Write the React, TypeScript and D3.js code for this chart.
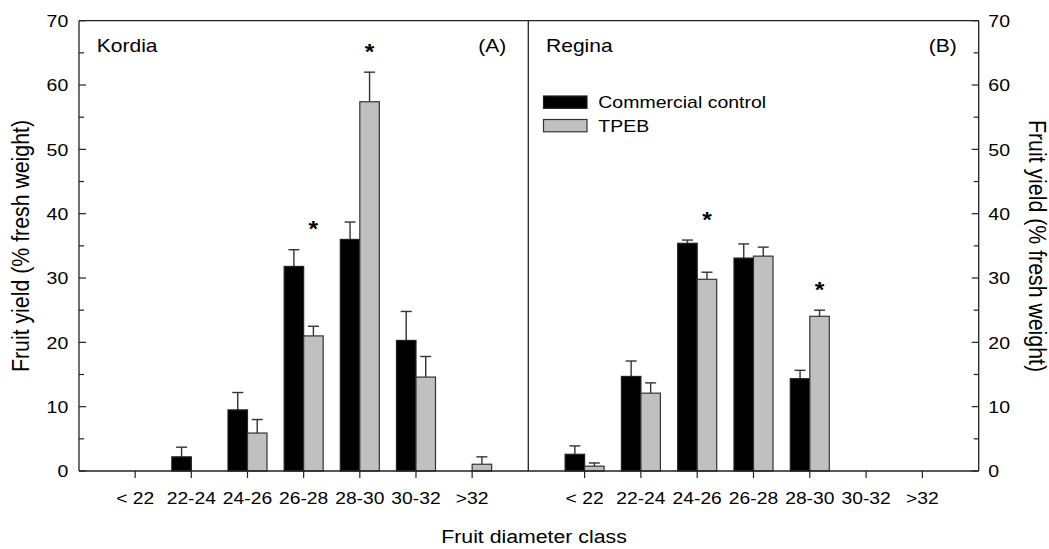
import React from 'react';
import * as d3 from 'd3';

const categories = ['< 22', '22-24', '24-26', '26-28', '28-30', '30-32', '>32'];

// Kordia (A)
const kordiaControl = [null, 2.2, 9.5, 31.8, 36.0, 20.3, null];
const kordiaControlErr = [null, 1.5, 2.7, 2.6, 2.7, 4.5, null];
const kordiaTpeb = [null, null, 5.9, 21.0, 57.4, 14.6, 1.05];
const kordiaTpebErr = [null, null, 2.1, 1.5, 4.6, 3.2, 1.15];
const kordiaSignif = ['26-28', '28-30'];

// Regina (B)
const reginaControl = [2.6, 14.7, 35.4, 33.1, 14.35, null, null];
const reginaControlErr = [1.3, 2.4, 0.5, 2.2, 1.3, null, null];
const reginaTpeb = [0.75, 12.1, 29.8, 33.4, 24.05, null, null];
const reginaTpebErr = [0.5, 1.6, 1.1, 1.4, 0.95, null, null];
const reginaSignif = ['24-26', '28-30'];

const seriesNames = ['Commercial control', 'TPEB'];

const W = 1049, H = 549;
const left = 79, mid = 528.3, right = 978.7, top = 20.7, bottom = 471;
const barW = 19.5;
const SX = 1.12; // horizontal stretch of the original raster
const font = '"Liberation Sans", Arial, sans-serif';
const ink = '#222';

const y = d3.scaleLinear().domain([0, 70]).range([bottom, top]);
const majorTicks = y.ticks(7);
const minorTicks = d3.range(5, 70, 10);

function HText({ x, y, size, anchor = 'start', weight = 'normal', children }: any) {
  return (
    <text transform={`translate(${x},${y}) scale(${SX},1)`} fontSize={size} fontFamily={font}
      textAnchor={anchor} fontWeight={weight} fill="#000">{children}</text>
  );
}

function Panel({ x0, x1, control, controlErr, tpeb, tpebErr, signif, label, tag }: any) {
  const x = d3.scaleLinear().domain([0, 8]).range([x0, x1]);
  const pos = (i: number) => x(i + 1);
  const errBar = (cx: number, v: number, e: number, key: string) => (
    <g key={key} stroke="#333" strokeWidth={1.4}>
      <line x1={cx} x2={cx} y1={y(v)} y2={y(v + e)} />
      <line x1={cx - 5.5} x2={cx + 5.5} y1={y(v + e)} y2={y(v + e)} />
    </g>
  );
  return (
    <g>
      {categories.map((c, i) => (
        <g key={c}>
          {control[i] != null && (
            <g>
              {errBar(pos(i) - barW / 2, control[i], controlErr[i], 'ce')}
              <rect x={pos(i) - barW} y={y(control[i])} width={barW} height={bottom - y(control[i])}
                fill="#000" stroke={ink} strokeWidth={1.2} />
            </g>
          )}
          {tpeb[i] != null && (
            <g>
              {errBar(pos(i) + barW / 2, tpeb[i], tpebErr[i], 'te')}
              <rect x={pos(i)} y={y(tpeb[i])} width={barW} height={bottom - y(tpeb[i])}
                fill="#c0c0c0" stroke="#333" strokeWidth={1.2} />
            </g>
          )}
          {signif.includes(c) && (
            <HText x={pos(i) + barW / 2} anchor="middle" size={22} weight="bold"
              y={y(Math.max((control[i] ?? 0) + (controlErr[i] ?? 0), (tpeb[i] ?? 0) + (tpebErr[i] ?? 0))) - 13.5}>*</HText>
          )}
          <line x1={pos(i)} x2={pos(i)} y1={bottom} y2={bottom + 7} stroke={ink} strokeWidth={1.2} />
          <HText x={pos(i)} y={504} size={17.2} anchor="middle">{c}</HText>
        </g>
      ))}
      <HText x={x0 + 17.7} y={52.3} size={18.8}>{label}</HText>
      <HText x={x1 - 22} y={52.3} size={18.8} anchor="end">{tag}</HText>
    </g>
  );
}

export default function App() {
  return (
    <svg width={W} height={H} style={{ position: 'absolute', left: 0, top: 0, background: '#fff' }}>
      <Panel x0={left} x1={mid} control={kordiaControl} controlErr={kordiaControlErr}
        tpeb={kordiaTpeb} tpebErr={kordiaTpebErr} signif={kordiaSignif} label="Kordia" tag="(A)" />
      <Panel x0={mid} x1={right} control={reginaControl} controlErr={reginaControlErr}
        tpeb={reginaTpeb} tpebErr={reginaTpebErr} signif={reginaSignif} label="Regina" tag="(B)" />

      {/* frame */}
      <g stroke={ink} strokeWidth={1.3} fill="none">
        <line x1={left} x2={right} y1={top} y2={top} />
        <line x1={left} x2={right} y1={bottom} y2={bottom} />
        <line x1={left} x2={left} y1={top} y2={bottom} />
        <line x1={right} x2={right} y1={top} y2={bottom} />
        <line x1={mid} x2={mid} y1={top} y2={bottom} />
      </g>

      {/* y ticks, inside on both sides */}
      <g stroke={ink} strokeWidth={1.2}>
        {majorTicks.map(t => (
          <g key={'M' + t}>
            <line x1={left} x2={left + 7} y1={y(t)} y2={y(t)} />
            <line x1={right} x2={right - 7} y1={y(t)} y2={y(t)} />
          </g>
        ))}
        {minorTicks.map(t => (
          <g key={'m' + t}>
            <line x1={left} x2={left + 5} y1={y(t)} y2={y(t)} />
            <line x1={right} x2={right - 5} y1={y(t)} y2={y(t)} />
          </g>
        ))}
      </g>
      {majorTicks.map(t => (
        <g key={'l' + t}>
          <HText x={68.3} y={y(t) + 6.2} size={17.4} anchor="end">{t}</HText>
          <HText x={988.3} y={y(t) + 6.2} size={17.4}>{t}</HText>
        </g>
      ))}

      {/* legend */}
      <rect x={543.5} y={96} width={43.5} height={12.3} fill="#000" stroke={ink} strokeWidth={1.2} />
      <rect x={543.5} y={119.5} width={43.5} height={12.3} fill="#c0c0c0" stroke="#333" strokeWidth={1.2} />
      <HText x={598.3} y={108.3} size={17.4}>{seriesNames[0]}</HText>
      <HText x={598.3} y={131.7} size={17.4}>{seriesNames[1]}</HText>

      {/* axis titles */}
      <HText x={534} y={542.5} size={19} anchor="middle">Fruit diameter class</HText>
      <text transform={`translate(28.5,246) scale(${SX},1) rotate(-90)`} fontSize={21.3} fontFamily={font}
        textAnchor="middle" fill="#000">Fruit yield (% fresh weight)</text>
      <text transform={`translate(1028.5,246) scale(${SX},1) rotate(90)`} fontSize={21.3} fontFamily={font}
        textAnchor="middle" fill="#000">Fruit yield (% fresh weight)</text>
    </svg>
  );
}
